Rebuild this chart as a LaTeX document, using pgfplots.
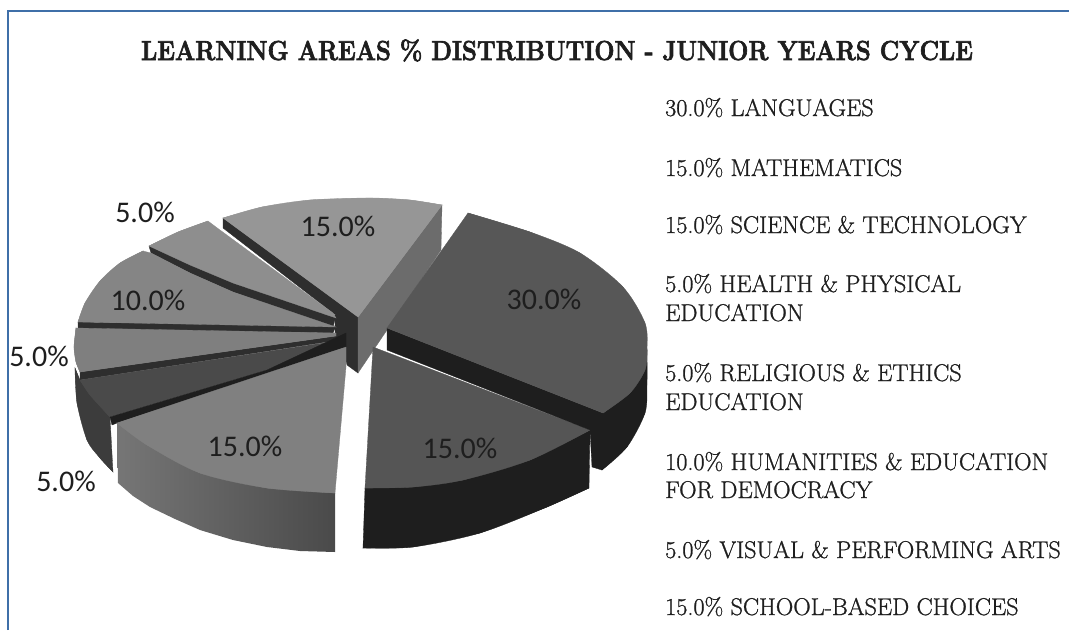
\documentclass[border=0pt]{standalone}
\usepackage{pgfplots}
\pgfplotsset{compat=1.18}
\usepackage{fontspec}
\newfontfamily\lab{Carlito}
\definecolor{frameblue}{HTML}{3F6FA8}
\definecolor{txt}{HTML}{1E1E1E}
\definecolor{topa}{HTML}{969696}
\definecolor{topb}{HTML}{8E8E8E}
\definecolor{topc}{HTML}{858585}
\definecolor{topd}{HTML}{7F7F7F}
\definecolor{tope}{HTML}{4A4A4A}
\definecolor{topf}{HTML}{808080}
\definecolor{topg}{HTML}{555555}
\definecolor{toph}{HTML}{575757}
\definecolor{sidea}{HTML}{6C6C6C}
\definecolor{sidedark}{HTML}{2E2E2E}
\definecolor{sideblack}{HTML}{1E1E1E}
\definecolor{sidee}{HTML}{3C3C3C}
\definecolor{sidefl}{HTML}{767676}
\definecolor{sidefr}{HTML}{4A4A4A}
% stroked text, the scanned lettering is heavier than Latin Modern
\newcommand{\heavy}[2]{\special{pdf:code q 2 Tr #1 w}#2\special{pdf:code Q}}
\tikzset{
  face/.style={fill=#1,draw=#1,line width=0.3pt},
  arc/.style={smooth,fill=#1,draw=#1,line width=0.3pt},
  pct/.style={font=\lab\fontsize{30}{30}\selectfont,text=txt,anchor=center,inner sep=0pt},
  item/.style={font=\fontsize{24.2}{24.2}\selectfont,text=txt,anchor=base west,inner sep=0pt}
}
\begin{document}
\begin{tikzpicture}
\begin{axis}[
  scale only axis,width=1069pt,height=630pt,
  xmin=0,xmax=1069,ymin=0,ymax=630,y dir=reverse,
  hide axis,clip=true]
% keeps the whole page in the bounding box
\addplot[draw=none] coordinates {(0,0) (1069,630)};
% frame
\addplot[frameblue,line width=1.2pt] coordinates {(8,630) (8,11) (1069,11)};

% hub and back slice sides
\addplot[face=sidedark] coordinates {(335,315) (358,317) (358,373) (347,365) (343,348) (335,345)} --cycle;
\addplot[face=sidedark] coordinates {(223,218) (223,228) (333,313) (345,322) (358,317)} --cycle;
\addplot[face=sidea] coordinates {(442,205) (441,250) (358,373) (358,317)} --cycle;
\addplot[face=topa] coordinates {(358,317) (223,218) (262,207) (310,200) (370,198) (410,200) (442,205)} --cycle;
\addplot[arc=topa] coordinates {(223,218) (262,207) (310,200) (370,198) (410,200) (442,205)} --cycle;

% 5%
\addplot[face=sidedark] coordinates {(149,246) (151,253) (190,273) (233,292) (333,327) (336,316)} --cycle;
\addplot[face=topb] coordinates {(336,318) (333,313) (220,230) (208,221) (178,232) (149,246) (190,265) (233,283)} --cycle;
\addplot[arc=topb] coordinates {(208,221) (178,232) (149,246)} --cycle;
% 10%
\addplot[face=sidedark] coordinates {(78,322) (78,329) (333,333) (336,326)} --cycle;
\addplot[face=topc] coordinates {(336,327) (233,292) (190,273) (151,253) (143,251) (120,263) (100,281) (85,303) (78,322)} --cycle;
\addplot[arc=topc] coordinates {(143,251) (120,263) (100,281) (85,303) (78,322)} --cycle;
% 5%
\addplot[face=sidedark] coordinates {(80,372) (80,380) (333,341) (336,336)} --cycle;
\addplot[face=topd] coordinates {(336,336) (336,333) (76,328) (74,347) (76,362) (80,372)} --cycle;
\addplot[arc=topd] coordinates {(76,328) (74,347) (76,362) (80,372)} --cycle;
% dark 5%
\addplot[face=sidee] coordinates {(75,368) (80,380) (110,417) (113,472) (100,458) (87,440) (77,403)} --cycle;
\addplot[arc=sidee] coordinates {(75,368) (77,403) (87,440) (100,458) (113,472)} --cycle;
\addplot[face=tope] coordinates {(336,341) (80,380) (90,395) (110,417) (267,370)} --cycle;
\addplot[arc=tope] coordinates {(80,380) (90,395) (110,417)} --cycle;

% bottom left 15%
\addplot[shade,left color=sidefl,right color=sidefr,draw=none] coordinates {(117,423) (118,483) (133,496) (150,507) (175,519) (200,530) (233,540) (267,547) (300,551) (335,552) (335,493)} --cycle;
\addplot[face=sideblack] coordinates {(110,417) (112,425) (117,423) (280,370) (346,347) (346,333) (267,370)} --cycle;
\addplot[face=topf] coordinates {(346,347) (117,423) (147,445) (200,473) (267,488) (335,493) (346,367)} --cycle;
\addplot[arc=topf] coordinates {(117,423) (147,445) (200,473) (267,488) (335,493)} --cycle;

% bottom right 15%
\addplot[face=sideblack] coordinates {(365,488) (363,548) (413,547) (480,533) (547,507) (589,488) (590,430)} --cycle;
\addplot[arc=sideblack] coordinates {(363,548) (413,547) (480,533) (547,507) (589,488)} --cycle;
\addplot[face=topg] coordinates {(373,347) (590,430) (530,460) (463,480) (413,487) (365,488)} --cycle;
\addplot[arc=topg] coordinates {(590,430) (530,460) (463,480) (413,487) (365,488)} --cycle;

% 30%
\addplot[face=sideblack] coordinates {(387,328) (387,350) (590,430) (592,467) (602,470) (627,447) (645,413) (647,350) (603,413)} --cycle;
\addplot[arc=sideblack] coordinates {(602,470) (627,447) (645,413) (647,385) (647,350)} --cycle;
\addplot[face=toph] coordinates {(387,328) (468,213) (530,232) (580,253) (623,287) (645,323) (647,350) (645,370) (630,393) (603,413)} --cycle;
\addplot[arc=toph] coordinates {(468,213) (530,232) (580,253) (623,287) (645,323) (647,350) (645,370) (630,393) (603,413)} --cycle;

% slice values
\node[pct] at (axis cs:338,226) {15.0\%};
\node[pct] at (axis cs:544,299) {30.0\%};
\node[pct] at (axis cs:460,448) {15.0\%};
\node[pct] at (axis cs:245,446) {15.0\%};
\node[pct] at (axis cs:66,481) {5.0\%};
\node[pct] at (axis cs:39,356) {5.0\%};
\node[pct] at (axis cs:148,300) {10.0\%};
\node[pct] at (axis cs:145,212) {5.0\%};

% title and list
\node[text=txt,anchor=base,inner sep=0pt] at (axis cs:557,60) {\scalebox{0.87}[1]{\bfseries\fontsize{27.5}{27.5}\selectfont\heavy{0.7}{LEARNING AREAS \% DISTRIBUTION - JUNIOR YEARS CYCLE}}};
\node[item] at (axis cs:665,116) {\heavy{0.25}{30.0\% LANGUAGES}};
\node[item] at (axis cs:665,176) {\heavy{0.25}{15.0\% MATHEMATICS}};
\node[item] at (axis cs:665,233) {\heavy{0.25}{15.0\% SCIENCE \& TECHNOLOGY}};
\node[item] at (axis cs:665,292) {\heavy{0.25}{5.0\% HEALTH \& PHYSICAL}};
\node[item] at (axis cs:665,321) {\heavy{0.25}{EDUCATION}};
\node[item] at (axis cs:665,381) {\heavy{0.25}{5.0\% RELIGIOUS \& ETHICS}};
\node[item] at (axis cs:665,410) {\heavy{0.25}{EDUCATION}};
\node[item] at (axis cs:665,470) {\heavy{0.25}{10.0\% HUMANITIES \& EDUCATION}};
\node[item] at (axis cs:665,498) {\heavy{0.25}{FOR DEMOCRACY}};
\node[item] at (axis cs:665,558) {\heavy{0.25}{5.0\% VISUAL \& PERFORMING ARTS}};
\node[item] at (axis cs:665,615) {\heavy{0.25}{15.0\% SCHOOL-BASED CHOICES}};
\end{axis}
\end{tikzpicture}
\end{document}
